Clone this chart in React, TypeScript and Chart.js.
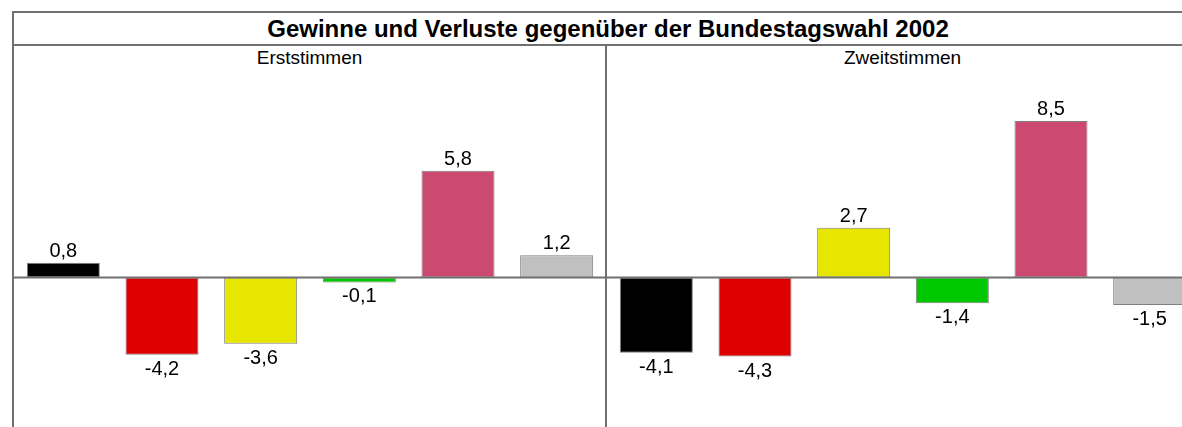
import React, { useEffect, useRef } from "react";
import { Chart, registerables } from "chart.js";

Chart.register(...registerables);

const title = "Gewinne und Verluste gegenüber der Bundestagswahl 2002";
const panelTitles = ["Erststimmen", "Zweitstimmen"];
const parties = ["CDU/CSU", "SPD", "FDP", "Grüne", "Die Linke.", "Sonstige"];
const partyColors = ["#000000", "#dd0000", "#e6e600", "#00c800", "#cc4a72", "#c0c0c0"];
const erststimmen = [0.8, -4.2, -3.6, -0.1, 5.8, 1.2];
const zweitstimmen = [-4.1, -4.3, 2.7, -1.4, 8.5, -1.5];

const LINE = "#707070";
const FONT = "'Liberation Sans', Arial, sans-serif";

const labelPlugin = {
  id: "valueLabels",
  afterDatasetsDraw(chart: any) {
    const { ctx, chartArea } = chart;
    const y = chart.scales.y;
    const zy = y.getPixelForValue(0);
    ctx.save();
    ctx.strokeStyle = LINE;
    ctx.lineWidth = 2;
    ctx.beginPath();
    ctx.moveTo(chartArea.left - 2, zy);
    ctx.lineTo(chartArea.right + 2, zy);
    ctx.stroke();
    const meta = chart.getDatasetMeta(0);
    const data = chart.data.datasets[0].data as number[];
    ctx.font = `20px ${FONT}`;
    ctx.fillStyle = "#000";
    ctx.textAlign = "center";
    ctx.textBaseline = "alphabetic";
    meta.data.forEach((el: any, i: number) => {
      const v = data[i];
      const txt = v.toFixed(1).replace(".", ",");
      const top = Math.min(el.y, el.base);
      const bottom = Math.max(el.y, el.base);
      if (v >= 0) ctx.fillText(txt, el.x, top - 6);
      else ctx.fillText(txt, el.x, bottom + 20);
    });
    ctx.restore();
  },
};

function Panel({ values, left }: { values: number[]; left: number }) {
  const ref = useRef<HTMLCanvasElement>(null);
  useEffect(() => {
    const chart = new Chart(ref.current!, {
      type: "bar",
      data: {
        labels: parties,
        datasets: [
          {
            data: values,
            backgroundColor: partyColors,
            borderColor: "#808080",
            borderWidth: 1,
            borderSkipped: false,
            categoryPercentage: 0.74,
            barPercentage: 1,
            minBarLength: 5,
          },
        ],
      },
      options: {
        responsive: false,
        maintainAspectRatio: false,
        animation: false,
        layout: { padding: 0 },
        plugins: { legend: { display: false }, tooltip: { enabled: false }, title: { display: false } },
        scales: {
          x: { display: false },
          y: { display: false, min: -9, max: 11 },
        },
      },
      plugins: [labelPlugin],
    });
    return () => chart.destroy();
  }, [values]);
  return (
    <canvas
      ref={ref}
      width={592}
      height={368}
      style={{ position: "absolute", left, top: 75, width: 592, height: 368 }}
    />
  );
}

export default function App() {
  useEffect(() => {
    document.body.style.overflow = "hidden";
  }, []);
  return (
    <div
      style={{
        position: "fixed",
        left: 0,
        top: 0,
        width: 1182,
        height: 427,
        overflow: "hidden",
        background: "#fff",
        fontFamily: FONT,
      }}
    >
      <div style={{ position: "absolute", left: 13, top: 11, width: 1190, height: 2, background: LINE }} />
      <div style={{ position: "absolute", left: 12, top: 11, width: 2, height: 420, background: LINE }} />
      <div style={{ position: "absolute", left: 13, top: 44, width: 1190, height: 2, background: LINE }} />
      <div style={{ position: "absolute", left: 605, top: 45, width: 2, height: 390, background: LINE }} />
      <div
        style={{
          position: "absolute",
          left: 13,
          width: 1190,
          top: 14,
          lineHeight: "30px",
          fontSize: 24,
          fontWeight: "bold",
          textAlign: "center",
          color: "#000",
        }}
      >
        {title}
      </div>
      <div style={{ position: "absolute", left: 13, width: 593, top: 48, lineHeight: "20px", fontSize: 19, textAlign: "center" }}>
        {panelTitles[0]}
      </div>
      <div style={{ position: "absolute", left: 606, width: 593, top: 48, lineHeight: "20px", fontSize: 19, textAlign: "center" }}>
        {panelTitles[1]}
      </div>
      <Panel values={erststimmen} left={14} />
      <Panel values={zweitstimmen} left={607} />
    </div>
  );
}
